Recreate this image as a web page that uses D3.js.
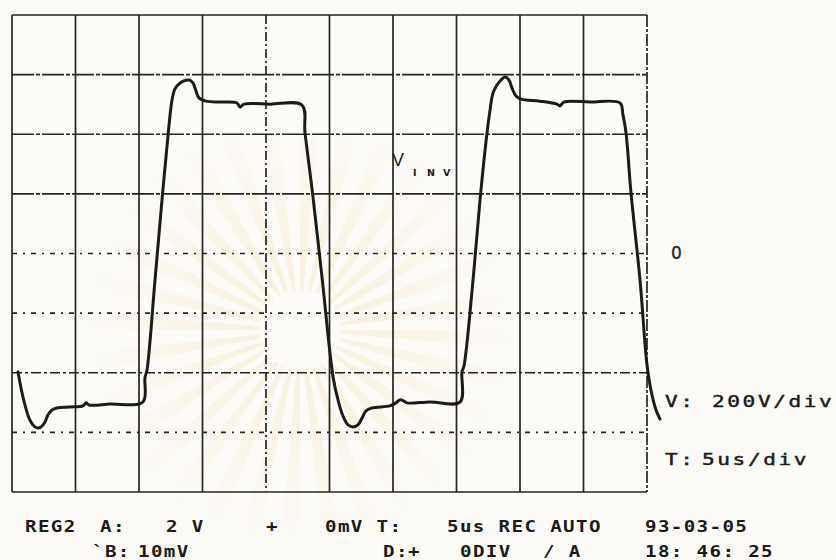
<!DOCTYPE html>
<html>
<head>
<meta charset="utf-8">
<script src="https://cdn.jsdelivr.net/npm/d3@7"></script>
<style>
  html, body { margin: 0; padding: 0; background: #fcfbf7; }
  svg { display: block; }
</style>
</head>
<body>
<svg id="chart" width="836" height="560"></svg>
<script>
// ---- Scope settings ----
const timePerDiv = 5;      // µs per division
const voltPerDiv = 200;    // V per division
const xDivisions = 10;
const yDivisions = 8;

// ---- Captured inverter output voltage (time in µs, voltage in V) ----
const timeUs = [
  0.47, 0.71, 1.02, 1.34, 1.65, 1.97, 2.28, 2.60, 2.83, 3.15, 3.54, 4.57, 5.59, 5.83, 6.06, 7.72,
  10.31, 10.47, 10.63, 11.26, 11.81, 12.28, 12.60, 12.83, 13.15, 13.54, 13.94, 14.25, 14.49, 14.72,
  15.28, 16.38, 17.72, 17.95, 18.27, 20.31, 22.83, 23.07, 23.70, 24.41, 25.28, 25.67, 26.06, 26.46,
  26.85, 27.24, 27.56, 27.87, 28.35, 29.76, 30.24, 30.55, 30.87, 31.10, 32.91, 35.28, 35.43, 35.59,
  36.30, 36.85, 37.40, 37.64, 37.87, 38.19, 38.50, 38.82, 39.13, 39.37, 39.69, 40.08, 41.57, 42.91,
  43.15, 43.46, 45.51, 47.87, 48.11, 48.35, 48.74, 49.45, 50.00, 50.31, 50.71, 51.02
];
const voltsV = [
  -397, -451, -508, -552, -575, -585, -582, -565, -542, -525, -518, -515, -511, -501, -508, -505,
  -498, -417, -391, -89, 179, 394, 515, 552, 569, 579, 582, 572, 545, 522,
  511, 508, 505, 491, 501, 501, 498, 404, 190, -79, -414, -491, -545, -575,
  -582, -575, -552, -528, -518, -511, -501, -491, -495, -501, -498, -498, -397, -377,
  -89, 179, 404, 481, 538, 565, 582, 592, 582, 555, 528, 518, 511, 501,
  495, 508, 508, 505, 465, 404, 203, -89, -374, -458, -525, -555
];

// ---- Printed panel text ----
const traceName = "V";
const traceSub = ["I", "N", "V"];
const zeroLabel = "0";
const footerTop = ["REG2", "A:", "2 V", "+", "0mV T:", "5us REC AUTO", "93-03-05"];
const footerBottom = ["`B:", "10mV", "D:", "+", "0DIV", "/ A", "18: 46: 25"];

// ---- Layout ----
const plot = { left: 12, right: 647, top: 15, bottom: 492 };
const footerTopX = [25, 100, 166, 266, 325, 447, 645];
const footerBottomX = [92, 138, 383, 408, 460, 543, 645];
const ink = "#1b1b1b";

const svg = d3.select("#chart");

const x = d3.scaleLinear()
  .domain([0, timePerDiv * xDivisions])
  .range([plot.left, plot.right]);
const y = d3.scaleLinear()
  .domain([-voltPerDiv * yDivisions / 2, voltPerDiv * yDivisions / 2])
  .range([plot.bottom, plot.top]);

// ---- Faint sunburst emblem printed on the paper ----
const defs = svg.append("defs");
const rg = defs.append("radialGradient").attr("id", "rayFade")
  .attr("gradientUnits", "userSpaceOnUse")
  .attr("cx", 0).attr("cy", 0).attr("r", 230);
rg.append("stop").attr("offset", "0").attr("stop-color", "#f2d89a").attr("stop-opacity", 0);
rg.append("stop").attr("offset", "0.22").attr("stop-color", "#f2d89a").attr("stop-opacity", 0.28);
rg.append("stop").attr("offset", "0.55").attr("stop-color", "#f3dfae").attr("stop-opacity", 0.2);
rg.append("stop").attr("offset", "1").attr("stop-color", "#f5e8c8").attr("stop-opacity", 0);
const rayCount = 32;
const rays = d3.range(rayCount).map(i => {
  const a0 = (i / rayCount) * 2 * Math.PI;
  return { startAngle: a0, endAngle: a0 + (Math.PI / rayCount) * 0.9 };
});
svg.append("g")
  .attr("transform", "translate(300,330)")
  .selectAll("path").data(rays).join("path")
  .attr("d", d3.arc().innerRadius(40).outerRadius(230))
  .attr("fill", "url(#rayFade)");

// ---- Graticule ----
const grid = svg.append("g").attr("stroke", "#242424").attr("fill", "none");
const vTicks = d3.range(0, xDivisions + 1).map(i => i * timePerDiv);
const hTicks = d3.range(0, yDivisions + 1).map(i => (i - yDivisions / 2) * voltPerDiv);

grid.selectAll("line.v").data(vTicks).join("line")
  .attr("class", "v")
  .attr("x1", d => x(d)).attr("x2", d => x(d))
  .attr("y1", plot.top).attr("y2", plot.bottom)
  .attr("stroke-width", 1.7)
  .attr("stroke-dasharray", (d, i) => i === 4 ? "9,3,2,3" : (i === 10 ? "12,2,3,2" : null));

grid.selectAll("line.h").data(hTicks).join("line")
  .attr("class", "h")
  .attr("x1", plot.left).attr("x2", plot.right)
  .attr("y1", d => y(d)).attr("y2", d => y(d))
  .attr("stroke-width", 1.7)
  .attr("stroke-dasharray", (d, i) => {
    if (i === 0 || i === 8) return null;
    if (i === 4 || i === 3 || i === 1) return "5,6,2,6";
    if (i === 2) return "10,3,3,3";
    return "22,2,4,2";
  });

// ---- Waveform ----
const trace = timeUs.map((t, i) => [t, voltsV[i]]);
const line = d3.line()
  .x(d => x(d[0]))
  .y(d => y(d[1]))
  .curve(d3.curveCatmullRom.alpha(0.5));

svg.append("path")
  .datum(trace)
  .attr("d", line)
  .attr("fill", "none")
  .attr("stroke", ink)
  .attr("stroke-width", 3)
  .attr("stroke-linejoin", "round")
  .attr("stroke-linecap", "round");

// ---- Monospace printer text helper ----
function mono(parent, str, x0, yBase, adv, opt) {
  const sx = opt.sx || 1;
  const chars = str.split("");
  const t = parent.append("text")
    .attr("transform", `translate(${x0},${yBase}) scale(${sx},1)`)
    .attr("x", chars.map((c, i) => (i * adv / sx).toFixed(2)).join(" "))
    .attr("y", 0)
    .attr("font-family", "'DejaVu Sans Mono', monospace")
    .attr("font-size", opt.size)
    .attr("font-weight", opt.weight || "normal")
    .attr("fill", ink)
    .style("white-space", "pre")
    .text(str);
  if (opt.heavy) t.attr("stroke", ink).attr("stroke-width", opt.heavy);
}

// ---- Trace label ----
svg.append("text")
  .attr("x", 392).attr("y", 166)
  .attr("font-family", "'Liberation Sans', Arial, sans-serif")
  .attr("font-size", 18)
  .attr("fill", ink)
  .text(traceName);
svg.append("text")
  .attr("x", [413, 427, 443].join(" ")).attr("y", 176)
  .attr("font-family", "'DejaVu Sans', sans-serif")
  .attr("font-size", 9.5)
  .attr("font-weight", "bold")
  .attr("fill", ink)
  .text(traceSub.join(""));

// ---- Right-side annotations ----
svg.append("text")
  .attr("x", 671).attr("y", 259)
  .attr("font-family", "'DejaVu Sans', sans-serif")
  .attr("font-size", 17)
  .attr("fill", ink)
  .attr("stroke", ink).attr("stroke-width", 0.3)
  .text(zeroLabel);

const right = svg.append("g");
mono(right, "V:", 665, 407, 15.3, { size: 16.5, sx: 1.28, heavy: 0.45 });
mono(right, `${voltPerDiv}V/div`, 712, 407, 15.3, { size: 16.5, sx: 1.28, heavy: 0.45 });
mono(right, "T:", 665, 465, 15.3, { size: 16.5, sx: 1.28, heavy: 0.45 });
mono(right, `${timePerDiv}us/div`, 702, 465, 15.3, { size: 16.5, sx: 1.28, heavy: 0.45 });

// ---- Footer status lines ----
const footer = svg.append("g");
footerTop.forEach((s, i) => mono(footer, s, footerTopX[i], 532, 12.9, { size: 16, sx: 1.2, weight: "bold" }));
footerBottom.forEach((s, i) => mono(footer, s, footerBottomX[i], 557, 12.9, { size: 16, sx: 1.2, weight: "bold" }));
</script>
</body>
</html>
